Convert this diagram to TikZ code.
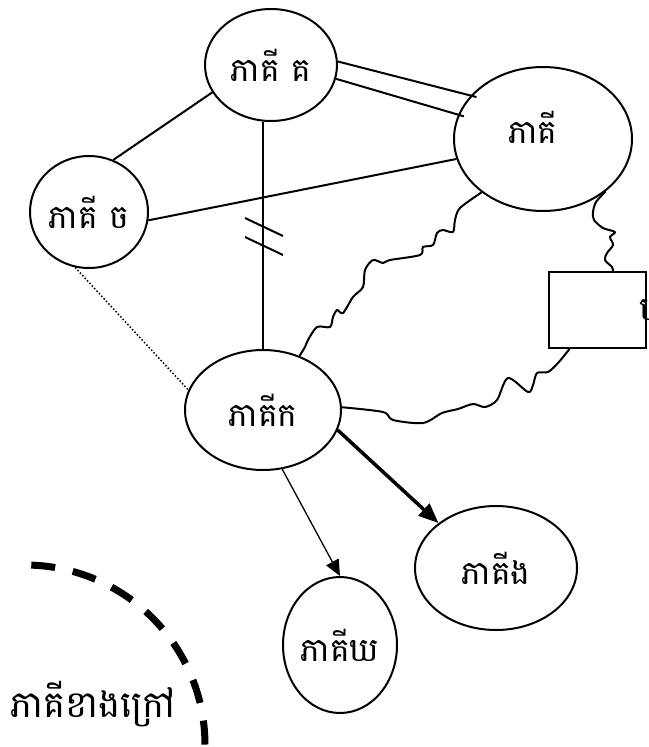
\documentclass[tikz,border=0pt]{standalone}
\usepackage{fontspec}
\newfontfamily\khmerfont[Script=Khmer]{Battambang}
\usetikzlibrary{shapes.geometric,arrows.meta}

\begin{document}
\begin{tikzpicture}
  [%%%%%%%%%%%%%%%%%%%%%%%%%%%%%%
  x=1pt, y=-1pt,
  every node/.style={font=\khmerfont\fontsize{33}{36}\selectfont},
  party/.style={ellipse, draw=black, line width=2pt, inner sep=0pt},
  link/.style={line width=2pt},
  wave/.style={line width=2pt, line join=round},
  ]%%%%%%%%%%%%%%%%%%%%%%%%%%%%%%
  \useasboundingbox (0,0) rectangle (648,747);

  \node[party, minimum width=132pt, minimum height=112pt] (C) at (271,65) {ភាគី គ};
  \node[party, minimum width=178pt, minimum height=144pt,
        label={[xshift=-10pt,yshift=12pt]center:{ភាគី}}] (D) at (543,139) {};
  \node[party, minimum width=118pt, minimum height=112pt] (Ch) at (89,212) {ភាគី ច};
  \node[party, minimum width=156pt, minimum height=120pt] (K) at (263,410) {ភាគីក};
  \node[party, minimum width=162pt, minimum height=124pt] (Ng) at (496,568) {ភាគីង};
  \node[party, minimum width=114pt, minimum height=136pt] (Y) at (340,645) {ភាគីឃ};
  \node[draw=black, line width=2pt, minimum width=97pt, minimum height=76pt,
        label={[xshift=52pt]center:{ប}}] (box) at (597,310) {};
  \node[font=\khmerfont\fontsize{37}{40}\selectfont] (ext) at (93,704) {ភាគីខាងក្រៅ};

  % solid links
  \draw[link] (C.205) -- (Ch.65);
  \draw[link, shorten >=-6pt] (C.3) -- (D.149);
  \draw[link, shorten >=-6pt] (C.-12) -- (D.164);
  \draw[link] (Ch.-8) -- (D.193);
  \draw[link] (K.north) -- (K.north |- C.south);
  \foreach \ty in {227,246}
    \draw[link] (245,\ty-9) -- (283,\ty+9);
  \draw[line width=1.5pt, dotted] (Ch.-104) -- (K.165);

  % arrows
  \draw[line width=3.5pt, -{Triangle[length=20pt,width=16pt]}] (K.-15) -- (Ng.142);
  \draw[line width=1.3pt, -{Triangle[length=16pt,width=14pt]}] (K.-72) -- (Y.north);

  % wavy links
  \draw[wave] plot[smooth, tension=0.5] coordinates {(D.221) (460,208) (455,220) (453,232)
    (443,230) (437,233) (433,245) (423,247) (420,255) (390,260) (383,263) (373,260)
    (365,270) (363,287) (353,297) (343,313) (337,310) (333,317) (330,327) (317,327)
    (308,340) (305,347) (K.56)};
  \draw[wave] plot[smooth, tension=0.5] coordinates {(K.2) (383,412) (393,420) (423,423)
    (442,413) (458,409) (473,404) (485,407) (497,400) (508,378) (528,392) (533,385)
    (537,373) (548,372) (558,363) ([xshift=22pt]box.south west)};
  \draw[wave] plot[smooth, tension=0.5] coordinates {(D.-40) (596,202) (593,212) (594,220)
    (603,228) (615,232) (610,237) (613,245) (607,253) (605,260) (612,267)
    ([xshift=16pt]box.north)};

  % outside boundary
  \draw[line width=7pt, dash pattern=on 24pt off 18pt] (25,745) ++(-88:180)
    arc[start angle=-88, end angle=0, radius=180];
\end{tikzpicture}
\end{document}
